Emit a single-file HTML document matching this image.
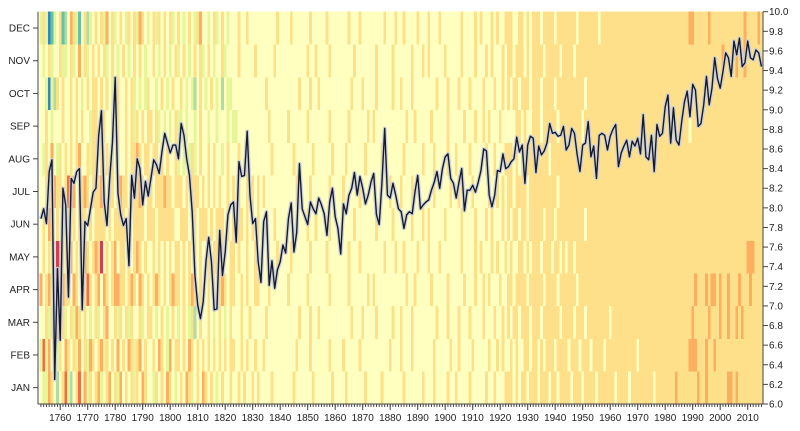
<!DOCTYPE html>
<html><head><meta charset="utf-8">
<style>
html,body{margin:0;padding:0;background:#fff;}
svg{display:block;font-family:"Liberation Sans",sans-serif;}
.ax text{font-size:10px;fill:#222;}
.ax line,.ax path{stroke:#444;stroke-width:1;fill:none;}
</style></head>
<body>
<svg id="chart" width="800" height="431" viewBox="0 0 800 431">
<g id="cells" shape-rendering="crispEdges"></g>
<g id="line"></g>
<g id="leftAxis" class="ax"></g>
<g id="bottomAxis" class="ax"></g>
<g id="rightAxis" class="ax"></g>
</svg>
<script>
const firstYear = 1753;
const months = ["JAN","FEB","MAR","APR","MAY","JUN","JUL","AUG","SEP","OCT","NOV","DEC"];
const palette = ["#3288bd","#66c2a5","#abdda4","#e6f598","#ffffbf","#fee08b","#fdae61","#f46d43","#d53e4f"];
const monthCodes = [
"4336542457 3245746354 5634564536 4545354654 4354546543 4546534546 5454345445 4454544545 4444544444 4454444445 4444445444 4544444454 4444544444 4454444445 4445444454 4544445444 4454454445 5545455455 5455545545 5554555455 5545555554 5555455555 5554555555 5655555556 5565555555 6656555555 555",
"3736453546 5453645365 4563545464 5465356454 4546543645 5454654545 4545454545 5445454454 4544444444 4445444454 4444454444 5444445444 4444444544 4544454444 4445444445 4454444544 4445445454 4545445545 5454555455 5545554555 4555545555 5555555455 5555555555 5555556665 5565565555 5555555555 555",
"4453526453 4536545434 5345644535 4535445345 5434543454 3454352454 4543454345 4445445444 4454444444 4444544454 4544444444 4445444544 4454444454 4544454444 4444544454 4454445444 4544454454 5455455545 5545555554 5555455545 5555555455 5555555555 5555555555 5555555655 5556555655 6556565555 555",
"6456347565 5465465754 5646545665 5456546545 4565454565 5454565454 4545456545 5445454455 4445444444 5444444544 4444454444 4454444445 4544444444 4445445444 4454444454 4444544454 4545444544 5545555455 5554555545 5555545555 5555555555 5555555555 5555555555 5555555565 5565665655 6555655565 555",
"4545458654 5645456545 6584545645 5454565454 4545454545 5454545454 4545545445 5454454454 4444445444 4544444454 4444544444 4454445444 4444454445 4454444544 4544454444 4445444454 5444545445 4544554545 5545554554 5455455555 5555555555 5555555555 5555555555 5555555555 5555555555 5555555666 555",
"4546545454 5454555454 5555454555 5454555545 5545555554 4555455455 5454555454 5455454545 4444454444 4444444544 5444454444 4444544444 4454444454 4444454445 4544444544 4445444454 4454544454 5455455455 5554555455 5555555545 5555555555 5555555555 5555555555 5555555555 5555555555 5555555555 555",
"4455465545 7564556545 5565455456 5545556545 5455565545 5545455545 4545454454 5454454545 4544444444 4445444454 4444454444 5444445444 4444444544 4544454444 4445444445 4454444544 4445445454 5545555455 5555555545 5555555555 5555555555 5555555555 5555555555 5555555555 5555555555 5555555555 555",
"4354643545 4545644535 5454545454 4545565455 4554545445 3434353454 4545443454 4454454444 4444544444 4454444445 4444445444 4544444454 4444544444 4454444445 4445444454 4544445444 4454454445 5545455555 5555545555 5555555555 5555555555 5555555555 5555555555 5555555555 5555555555 5555555555 555",
"4454344454 4545454435 5455445454 4545354545 5453434345 3343443454 4344344434 3344444444 4445444444 5444444544 4444454444 4454444445 4544444444 4445445444 4454444454 4444544454 4545444544 4445545445 5545555545 5555555455 5555555555 5555555555 5555555555 5555554555 5555555555 5555555555 555",
"4430325454 4545434545 5454543454 4545343435 4434543454 4543432454 3454342433 4444444444 4454444444 4444544454 4544444444 4445444544 4454444454 4544454444 4444544454 4454445444 4544454454 5455455545 5545555455 5555555545 5555555555 5555555555 5555555555 5555555555 5555555555 5555555555 555",
"4345344533 4534645345 4545345434 5434545434 4543454345 3454345453 4543445344 4454444454 4444454444 4444444544 5444454444 4444544444 4454444454 4444454445 4544444544 4445444454 4454544454 5545554545 5554555554 5555455555 5555555555 5555555555 5555555555 5555555555 5555555565 5556556555 555",
"3530134512 4653145234 5453645345 4354536543 4535454534 5434543564 4345345434 4454454444 4444445444 4544444454 4444544444 4454445444 4444454445 4454444544 4544454444 4445444454 5444545445 5544554545 5545555455 5555545555 5554555555 5555555555 5555555555 5555556655 5556555555 5555556555 565"
];
const annualTemps = [
7.89,7.99,7.84,8.37,8.49,6.25,7.38,6.65,8.2,8.03,
7.09,8.3,8.25,8.37,8.4,6.96,7.86,7.82,7.99,8.16,
8.2,8.74,8.99,8.06,7.82,8.3,8.67,9.33,8.15,7.93,
7.82,7.89,7.41,8.33,8.1,8.5,8.4,8.03,8.27,8.12,
8.3,8.49,8.44,8.35,8.57,8.76,8.66,8.56,8.64,8.64,
8.5,8.86,8.74,8.5,8.33,7.96,7.31,7.01,6.87,7.04,
7.45,7.7,7.45,6.96,6.97,7.77,7.31,7.55,7.93,8.03,
8.06,7.65,8.47,8.32,8.33,8.78,8.13,7.84,7.89,7.45,
7.24,7.86,7.96,7.21,7.46,7.18,7.37,7.45,7.62,7.54,
7.89,8.05,7.55,7.75,8.45,7.99,7.91,7.83,8.06,
7.99,7.94,8.1,8.03,7.94,7.72,8.06,8.2,7.91,7.79,
7.53,8.04,7.94,8.13,8.2,8.36,8.13,8.32,8.2,8.04,
8.13,8.26,8.35,7.93,7.83,8.26,8.81,8.13,8.1,8.25,
8.13,7.99,7.96,7.79,7.93,7.96,7.94,8.16,8.33,7.99,
8.03,8.06,8.08,8.18,8.26,8.37,8.2,8.4,8.52,
8.55,8.3,8.25,8.1,8.26,8.4,7.97,8.18,8.18,8.23,
8.16,8.26,8.38,8.6,8.58,8.13,8.01,8.13,8.38,8.37,
8.55,8.4,8.42,8.47,8.5,8.72,8.57,8.64,8.25,8.64,
8.73,8.71,8.36,8.63,8.54,8.58,8.66,8.86,8.76,
8.77,8.73,8.74,8.83,8.59,8.64,8.81,8.76,8.54,8.37,
8.64,8.66,8.88,8.52,8.63,8.3,8.74,8.76,8.74,8.59,
8.73,8.8,8.85,8.42,8.56,8.63,8.69,8.52,8.68,8.63,
8.71,8.55,8.95,8.52,
8.49,8.74,8.37,8.85,8.73,8.76,9.03,9.15,8.66,9.02,8.69,8.64,8.88,9.08,9.19,8.93,9.26,9.2,8.83,8.86,9.05,9.34,9.05,9.22,9.53,9.32,9.22,9.39,9.58,9.53,9.34,9.7,9.56,9.73,9.44,9.48,9.7,9.53,9.51,9.61,9.58,9.44
];
const yearTicks = [1760,1770,1780,1790,1800,1810,1820,1830,1840,1850,1860,1870,1880,1890,1900,1910,1920,1930,1940,1950,1960,1970,1980,1990,2000,2010];
const tempTicks = [6.0,6.2,6.4,6.6,6.8,7.0,7.2,7.4,7.6,7.8,8.0,8.2,8.4,8.6,8.8,9.0,9.2,9.4,9.6,9.8,10.0];

const NS = "http://www.w3.org/2000/svg";
const plotL = 38, plotR = 763, plotT = 11.7, plotB = 404;
const yearW = 2.75;
const x = yr => 60.2 + (yr - 1760) * yearW;
const rowH = (plotB - plotT) / 12;
const yMonth = m => plotB - (m + 1) * rowH;
const yTemp = v => plotB - (v - 6) * (plotB - plotT) / 4;
function mk(tag, attrs, parent){ const e=document.createElementNS(NS,tag); for(const k in attrs) e.setAttribute(k,attrs[k]); parent.appendChild(e); return e; }

const cells = document.getElementById('cells');
monthCodes.forEach((s, m) => {
  const codes = s.replace(/\s/g,'');
  for (let i = 0; i < codes.length; i++) {
    const yr = firstYear + i;
    const r = mk('rect',{x:(x(yr)-yearW/2).toFixed(2),y:yMonth(m).toFixed(2),width:(yearW+0.3).toFixed(2),height:(rowH+0.3).toFixed(2),fill:palette[+codes[i]]},cells);
    
    
  }
});

const lg = document.getElementById('line');
const pts = annualTemps.map((v,i)=> x(firstYear+i).toFixed(2)+','+yTemp(v).toFixed(2)).join(' ');
const halo = mk('polyline',{points:pts,fill:'none',stroke:'#c8ccd8','stroke-width':4,'stroke-linejoin':'round','stroke-opacity':0.85},lg);


const ln = mk('polyline',{points:pts,fill:'none',stroke:'#151a30','stroke-width':1.4,'stroke-linejoin':'round'},lg);



const la = document.getElementById('leftAxis');
mk('line',{x1:plotL,y1:plotT,x2:plotL,y2:plotB},la);
months.forEach((mn,m)=>{
  const yc = yMonth(m) + rowH/2;
  mk('line',{x1:plotL-5,y1:yc,x2:plotL,y2:yc},la);
  const t = mk('text',{x:plotL-8,y:yc+3.5,'text-anchor':'end'},la);
  t.textContent = mn;
  
  
});

const ba = document.getElementById('bottomAxis');
mk('line',{x1:plotL,y1:plotB,x2:plotR,y2:plotB},ba);
for (let yr = firstYear; yr < firstYear + annualTemps.length; yr++) {
  mk('line',{x1:x(yr),y1:plotB,x2:x(yr),y2:plotB+3,'stroke-width':0.5},ba);
}
yearTicks.forEach(yr=>{
  mk('line',{x1:x(yr),y1:plotB,x2:x(yr),y2:plotB+6},ba);
  const t = mk('text',{x:x(yr),y:plotB+17,'text-anchor':'middle'},ba);
  t.textContent = yr;
  
  
});

const ra = document.getElementById('rightAxis');
mk('line',{x1:plotR,y1:plotT,x2:plotR,y2:plotB,stroke:'#999','stroke-width':1.5},ra);
tempTicks.forEach(v=>{
  const yy = yTemp(v);
  mk('line',{x1:plotR,y1:yy,x2:plotR+5,y2:yy},ra);
  const t = mk('text',{x:plotR+6,y:yy+3.5},ra);
  t.textContent = v.toFixed(1);
  
  
});
</script>
</body></html>
